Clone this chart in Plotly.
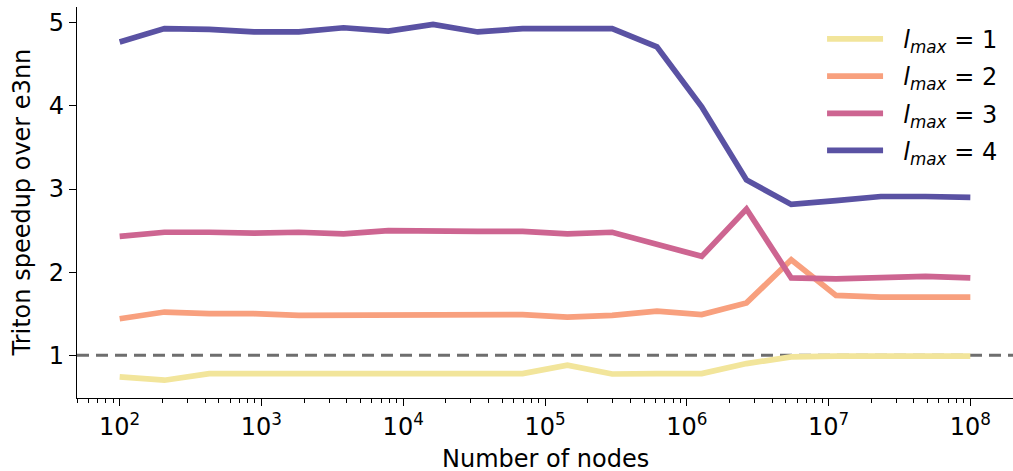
import numpy as np
import plotly.graph_objects as go

# Number of nodes: 20 log-spaced sizes from 1e2 to 1e8
num_nodes = np.logspace(2, 8, 20)

speedup_l1 = [0.74, 0.70, 0.78, 0.78, 0.78, 0.78, 0.78, 0.78, 0.78, 0.78,
              0.88, 0.775, 0.78, 0.78, 0.90, 0.98, 0.99, 0.99, 0.99, 0.99]
speedup_l2 = [1.44, 1.52, 1.50, 1.50, 1.48, 1.48, 1.48, 1.48, 1.49, 1.49,
              1.46, 1.48, 1.53, 1.49, 1.63, 2.15, 1.72, 1.70, 1.70, 1.70]
speedup_l3 = [2.43, 2.48, 2.48, 2.47, 2.48, 2.46, 2.50, 2.49, 2.49, 2.49,
              2.46, 2.48, 2.33, 2.19, 2.76, 1.93, 1.92, 1.93, 1.95, 1.93]
speedup_l4 = [4.77, 4.93, 4.92, 4.89, 4.89, 4.94, 4.90, 4.98, 4.89, 4.93,
              4.93, 4.93, 4.71, 3.99, 3.11, 2.815, 2.86, 2.91, 2.91, 2.90]

series = [
    ("<i>l</i><sub><i>max</i></sub> = 1", speedup_l1, "#F2E59B"),
    ("<i>l</i><sub><i>max</i></sub> = 2", speedup_l2, "#F8A07E"),
    ("<i>l</i><sub><i>max</i></sub> = 3", speedup_l3, "#CD6591"),
    ("<i>l</i><sub><i>max</i></sub> = 4", speedup_l4, "#5A52A3"),
]

major_exps = list(range(2, 9))
major_vals = [10.0 ** e for e in major_exps]
major_text = [f"10<sup>{e}</sup>" for e in major_exps]
minor_vals = [m * 10.0 ** e for e in range(1, 9) for m in range(2, 10)]

FONT = "DejaVu Sans"
FS = 24

fig = go.Figure()
for i, (name, vals, color) in enumerate(series):
    fig.add_trace(go.Scatter(x=num_nodes, y=vals, mode="lines",
                             name="&nbsp;&nbsp;" + name, legendgroup=f"g{i}",
                             line=dict(color=color, width=5.7)))

fig.add_hline(y=1, line=dict(color="#6E6E6E", width=3, dash="12px,7px"), layer="below")

fig.add_annotation(text="Number of nodes", xref="paper", yref="paper",
                   x=0.5, y=-0.155, xanchor="center", yanchor="middle",
                   showarrow=False, font=dict(size=FS, family=FONT, color="black"))
fig.add_annotation(text="Triton speedup over e3nn", xref="paper", yref="paper",
                   x=-0.0588, y=0.5, xanchor="center", yanchor="middle", textangle=-90,
                   showarrow=False, font=dict(size=FS, family=FONT, color="black"))

fig.update_layout(
    width=1013, height=471,
    margin=dict(l=77, r=0, t=7, b=73),
    paper_bgcolor="white", plot_bgcolor="white",
    font=dict(family=FONT, size=FS, color="black"),
    showlegend=True,
    legend=dict(x=0.796, y=0.975, xanchor="left", yanchor="top",
                bgcolor="rgba(255,255,255,0)", font=dict(size=FS),
                itemwidth=56, tracegroupgap=3),
)
fig.update_xaxes(
    type="log", range=[np.log10(num_nodes[0]) - 0.301, np.log10(num_nodes[-1]) + 0.301],
    tickvals=major_vals, ticktext=major_text,
    ticks="outside", ticklen=7, tickwidth=1.3, tickcolor="black",
    showline=True, linecolor="black", linewidth=1.3, showgrid=False, zeroline=False,
    minor=dict(tickvals=minor_vals, ticks="outside", ticklen=4, tickwidth=1, tickcolor="black", showgrid=False),
    tickfont=dict(size=FS), automargin=False,
)
fig.update_yaxes(
    range=[0.486, 5.19], tickvals=[1, 2, 3, 4, 5],
    ticks="outside", ticklen=7, tickwidth=1.3, tickcolor="black",
    showline=True, linecolor="black", linewidth=1.3, showgrid=False, zeroline=False,
    tickfont=dict(size=FS), automargin=False,
)

fig.write_html("out.html", config={"displayModeBar": False},
               post_script="document.body.style.margin='0';document.body.style.overflow='hidden';")
